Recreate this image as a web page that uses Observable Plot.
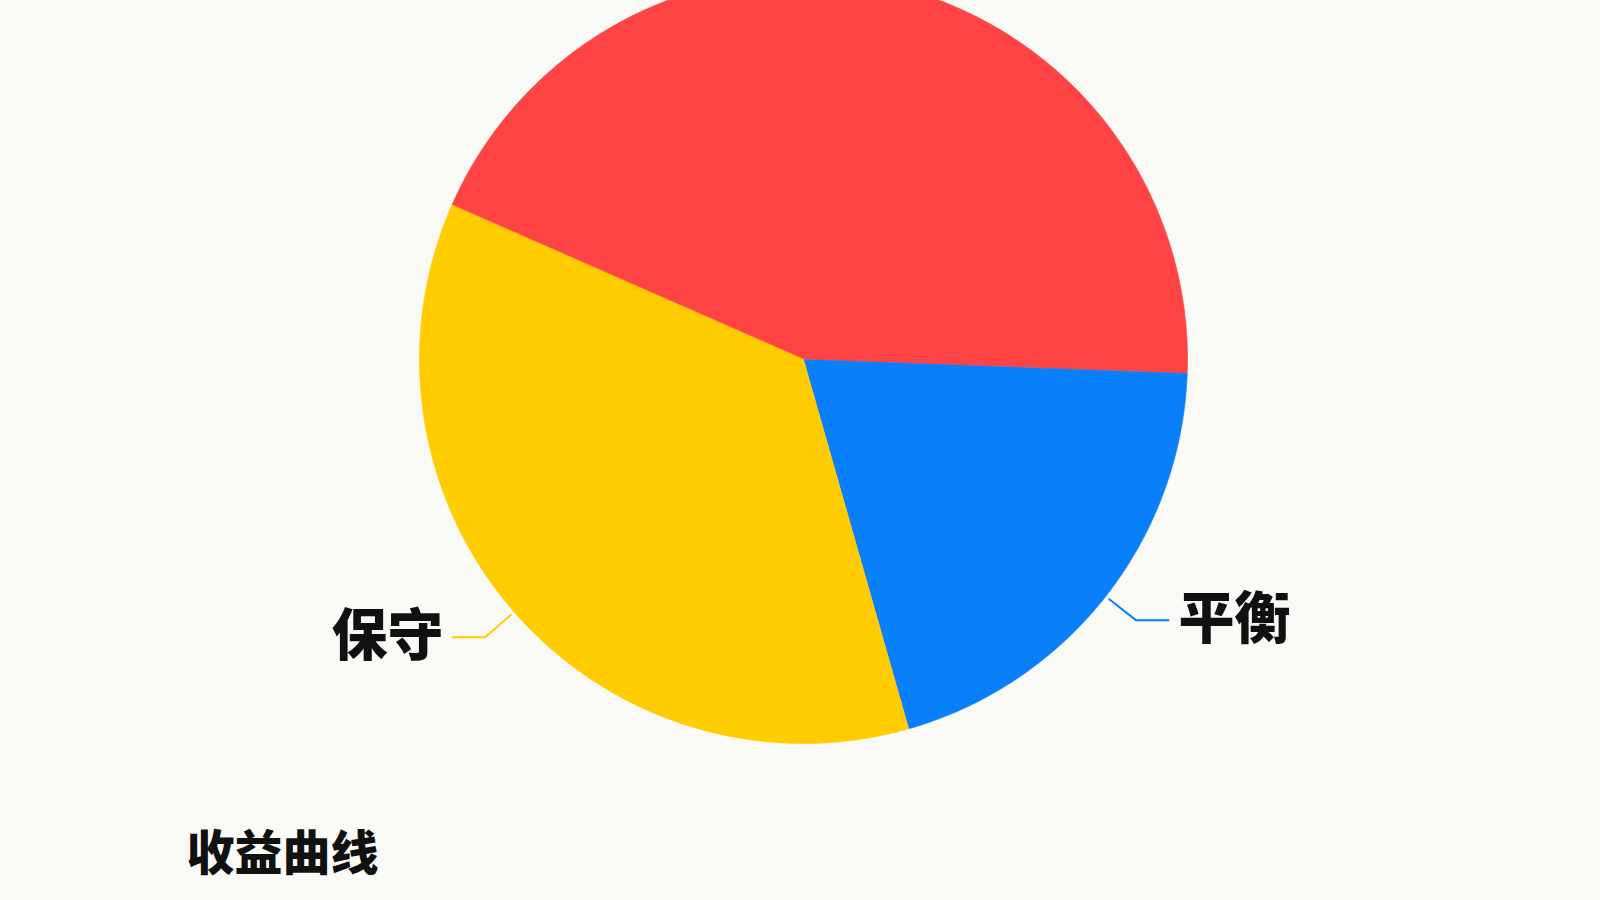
<!DOCTYPE html>
<html>
<head>
<meta charset="utf-8">
<script src="https://cdn.jsdelivr.net/npm/d3@7"></script>
<script src="https://cdn.jsdelivr.net/npm/@observablehq/plot@0.6"></script>
<style>
  html, body { margin: 0; padding: 0; background: #f9f9f6; }
  #chart { width: 1600px; height: 900px; }
</style>
</head>
<body>
<div id="chart"></div>
<script>
// ---- data ----
const categories = ["进取", "平衡", "保守"];
const shares = [44, 20, 36];
const colors = ["#fd4343", "#0a7ffa", "#ffcc02"];
const title = "收益曲线";
const startAngleDeg = -66.3;

// ---- layout ----
const W = 1600, H = 900;
const CX = 803, CY = 359, R = 384;
const FONT = "'Noto Sans CJK SC', 'Noto Sans', sans-serif";

const data = categories.map((c, i) => ({cat: c, v: shares[i]}));
const a0 = startAngleDeg * Math.PI / 180;
const arcs = d3.pie().sort(null).value(d => d.v).startAngle(a0).endAngle(a0 + 2 * Math.PI)(data);

// slice polygons in radius units (y up)
const polys = [];
arcs.forEach(a => {
  polys.push({cat: a.data.cat, x: 0, y: 0});
  const n = Math.max(2, Math.ceil((a.endAngle - a.startAngle) / (Math.PI / 360)));
  for (let k = 0; k <= n; k++) {
    const t = a.startAngle + (a.endAngle - a.startAngle) * k / n;
    polys.push({cat: a.data.cat, x: Math.sin(t), y: Math.cos(t)});
  }
});

// leader lines and labels
const leaders = [];
const labels = [];
arcs.forEach(a => {
  const m = (a.startAngle + a.endAngle) / 2;
  const sx = Math.sin(m), sy = Math.cos(m);
  const side = sx >= 0 ? 1 : -1;
  const p0 = {x: 1.012 * sx, y: 1.012 * sy};
  const p1 = {x: 1.1 * sx, y: 1.1 * sy};
  const p2 = {x: p1.x + side * 0.085, y: p1.y};
  [p0, p1, p2].forEach(p => leaders.push({cat: a.data.cat, ...p}));
  labels.push({cat: a.data.cat, x: p2.x, y: p2.y, side});
});

const chart = Plot.plot({
  width: W,
  height: H,
  margin: 0,
  style: {background: "#f9f9f6", fontFamily: FONT},
  x: {domain: [-CX / R, (W - CX) / R], axis: null},
  y: {domain: [-(H - CY) / R, CY / R], axis: null},
  color: {domain: categories, range: colors},
  marks: [
    Plot.line(polys, {x: "x", y: "y", z: "cat", fill: "cat", stroke: "cat", strokeWidth: 0.6, curve: "linear-closed"}),
    Plot.line(leaders, {x: "x", y: "y", z: "cat", stroke: "cat", strokeWidth: 2}),
    Plot.text(labels.filter(d => d.side > 0), {x: "x", y: "y", text: "cat", textAnchor: "start", dx: 10, fontSize: 56, fontWeight: 900, fill: "#111", fontFamily: FONT}),
    Plot.text(labels.filter(d => d.side < 0), {x: "x", y: "y", text: "cat", textAnchor: "end", dx: -9, fontSize: 56, fontWeight: 900, fill: "#111", fontFamily: FONT}),
    Plot.text([title], {frameAnchor: "bottom-left", textAnchor: "start", lineAnchor: "middle", dx: 186, dy: -46, fontSize: 48, fontWeight: 900, fill: "#111", fontFamily: FONT})
  ]
});
document.getElementById("chart").appendChild(chart);
</script>
</body>
</html>
